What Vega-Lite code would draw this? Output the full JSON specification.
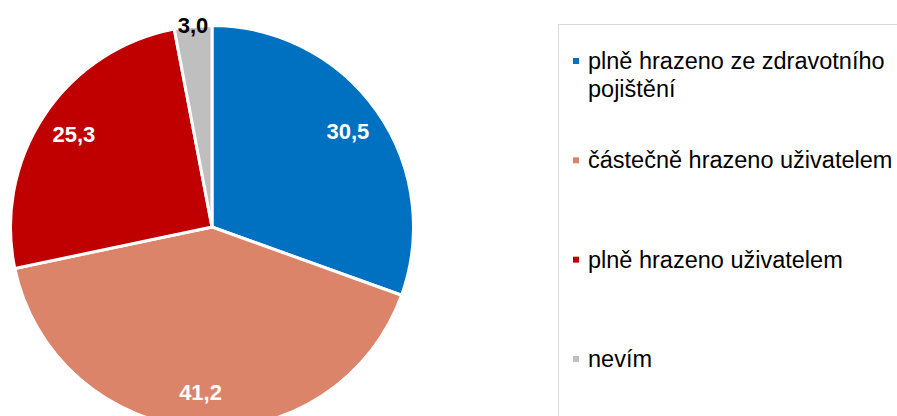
{
  "$schema": "https://vega.github.io/schema/vega-lite/v6.json",
  "padding": 0,
  "background": "white",
  "spacing": 133,
  "config": {
    "view": {"stroke": null},
    "font": "Liberation Sans",
    "locale": {"number": {"decimal": ",", "thousands": " ", "grouping": [3], "currency": ["", " Kč"]}}
  },
  "data": {
    "values": [
      {"cat": "plně hrazeno ze zdravotního pojištění", "label": "plně hrazeno ze zdravotního\npojištění", "value": 30.5, "idx": 1},
      {"cat": "částečně hrazeno uživatelem", "label": "částečně hrazeno uživatelem", "value": 41.2, "idx": 2},
      {"cat": "plně hrazeno uživatelem", "label": "plně hrazeno uživatelem", "value": 25.3, "idx": 3},
      {"cat": "nevím", "label": "nevím", "value": 3.0, "idx": 4}
    ]
  },
  "hconcat": [
    {
      "width": 424,
      "height": 406,
      "layer": [
        {
          "mark": {"type": "arc", "outerRadius": 201.5, "stroke": "white", "strokeWidth": 3},
          "encoding": {
            "theta": {"field": "value", "type": "quantitative", "stack": true},
            "order": {"field": "idx", "type": "quantitative"},
            "color": {
              "field": "cat",
              "type": "nominal",
              "scale": {
                "domain": ["plně hrazeno ze zdravotního pojištění", "částečně hrazeno uživatelem", "plně hrazeno uživatelem", "nevím"],
                "range": ["#0070C0", "#DC846A", "#C00000", "#BFBFBF"]
              },
              "legend": null
            }
          }
        },
        {
          "mark": {"type": "text", "radius": 166, "font": "Liberation Sans", "fontSize": 22, "fontWeight": "bold", "fill": "white", "baseline": "middle", "align": "center"},
          "encoding": {
            "theta": {"field": "value", "type": "quantitative", "stack": true},
            "order": {"field": "idx", "type": "quantitative"},
            "text": {"field": "value", "type": "quantitative", "format": ".1f"},
            "opacity": {"condition": {"test": "datum.cat === 'nevím'", "value": 0}, "value": 1}
          }
        },
        {
          "mark": {"type": "text", "radius": 202, "font": "Liberation Sans", "fontSize": 22, "fontWeight": "bold", "fill": "black", "baseline": "middle", "align": "center"},
          "encoding": {
            "theta": {"field": "value", "type": "quantitative", "stack": true},
            "order": {"field": "idx", "type": "quantitative"},
            "text": {"field": "value", "type": "quantitative", "format": ".1f"},
            "opacity": {"condition": {"test": "datum.cat === 'nevím'", "value": 1}, "value": 0}
          }
        }
      ]
    },
    {
      "width": 345,
      "height": 420,
      "title": {"text": " ", "fontSize": 1, "offset": 22},
      "view": {"stroke": "#D9D9D9", "strokeWidth": 1},
      "layer": [
        {
          "mark": {"type": "point", "shape": "square", "filled": true, "size": 36, "opacity": 1},
          "encoding": {
            "x": {"datum": 18, "type": "quantitative", "scale": {"domain": [0, 345], "range": [0, 345], "zero": false, "nice": false}, "axis": null},
            "y": {
              "field": "cat",
              "type": "nominal",
              "scale": {"type": "point", "padding": 0, "domain": ["plně hrazeno ze zdravotního pojištění", "částečně hrazeno uživatelem", "plně hrazeno uživatelem", "nevím"], "range": [37, 335]},
              "axis": null
            },
            "color": {"field": "cat", "type": "nominal", "legend": null}
          }
        },
        {
          "mark": {"type": "text", "align": "left", "baseline": "alphabetic", "dy": 8, "font": "Liberation Sans", "fontSize": 23.5, "lineBreak": "\n", "lineHeight": 28, "color": "black"},
          "encoding": {
            "x": {"datum": 30, "type": "quantitative"},
            "y": {"field": "cat", "type": "nominal"},
            "text": {"field": "label", "type": "nominal"}
          }
        }
      ]
    }
  ]
}
